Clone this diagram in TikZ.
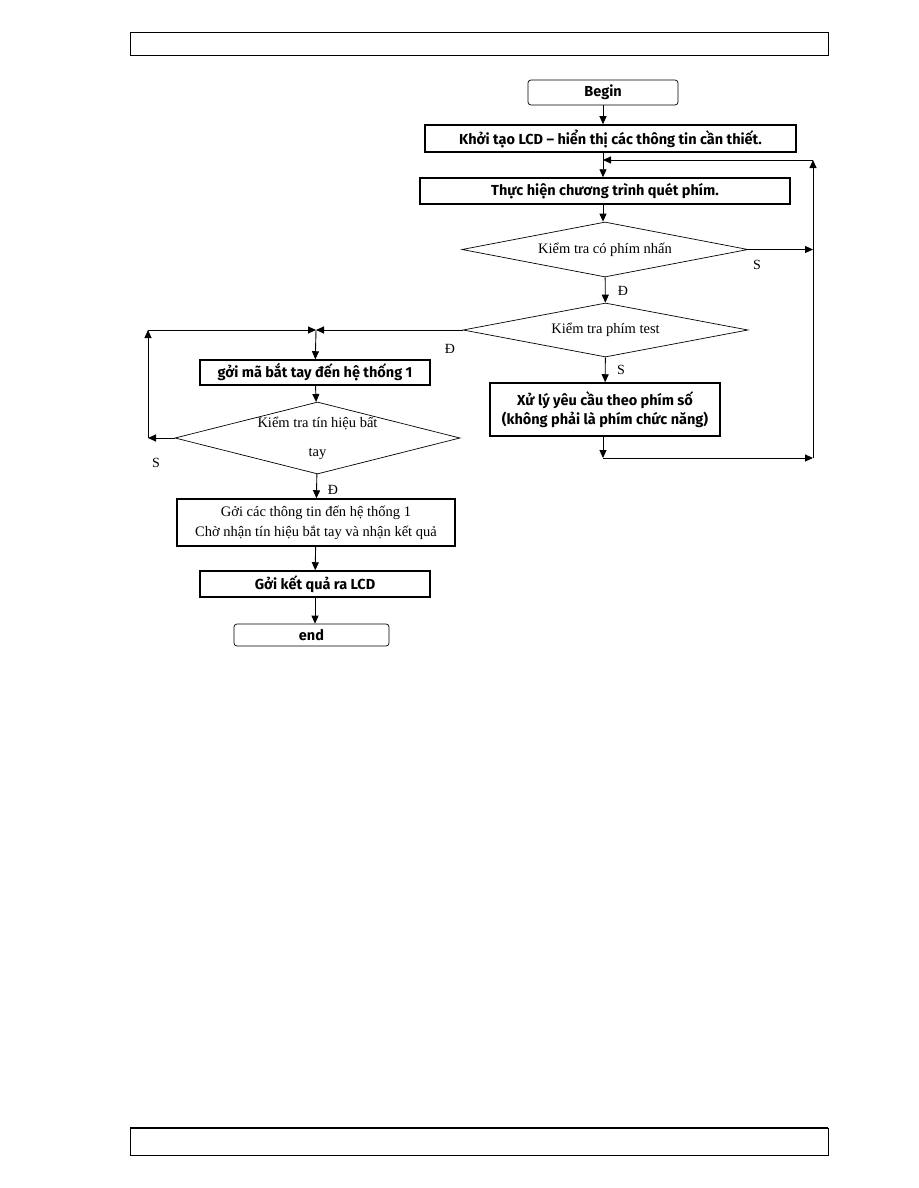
\documentclass[tikz,border=0pt]{standalone}
\usepackage{fontspec}
\setmainfont{Liberation Serif}
\newfontfamily\boxfont{Fira Sans}
\usetikzlibrary{shapes.geometric,arrows.meta}

\begin{document}
\begin{tikzpicture}[x=1pt,y=-1pt,
  box/.style={draw,line width=1.5pt,inner sep=0pt,font=\boxfont\bfseries\fontsize{14.5}{19}\selectfont},
  term/.style={draw,rounded corners=3pt,line width=0.7pt,inner sep=0pt,font=\boxfont\bfseries\fontsize{14.5}{17}\selectfont},
  cond/.style={diamond,draw,line width=0.7pt,inner sep=0pt,aspect=5,font=\fontsize{14.5}{17}\selectfont},
  flow/.style={line width=0.9pt,-{Triangle[length=8pt,width=7pt]}},
  lbl/.style={font=\fontsize{14}{16}\selectfont}]
\useasboundingbox (0,0) rectangle (918,1188);
\draw[line width=1pt] (130,33) rectangle (828,56);
\draw[line width=1pt] (130,1128) rectangle (828,1155);
\draw[line width=2pt] (130,1128) -- (828,1128);

\node[term,minimum width=150pt,minimum height=25pt] (begin) at (603,92.5) {Begin};
\node[box,minimum width=371pt,minimum height=27pt] (lcd) at (610.5,138.5) {Khởi tạo LCD – hiển thị các thông tin cần thiết.};
\node[box,minimum width=370pt,minimum height=26pt] (scan) at (605,191) {Thực hiện chương trình quét phím.};
\node[cond,minimum width=286pt,minimum height=55pt] (d1) at (605,249.5) {Kiểm tra có phím nhấn};
\node[cond,minimum width=285pt,minimum height=54pt] (d2) at (605.5,330) {Kiểm tra phím test};
\node[box,minimum width=230pt,minimum height=53pt,align=center] (proc) at (605,409.5) {Xử lý yêu cầu theo phím số\\(không phải là phím chức năng)};
\node[box,minimum width=230pt,minimum height=25pt] (send) at (315,372.5) {gởi mã bắt tay đến hệ thống 1};
\node[cond,minimum width=285pt,minimum height=72pt,align=center,aspect=3.96,inner ysep=-10pt] (d3) at (317.5,438) {Kiểm tra tín hiệu bất\\[12pt]tay};
\node[box,minimum width=278pt,minimum height=47pt,align=center,font=\fontsize{14.5}{20}\selectfont] (info) at (316,522.5) {Gởi các thông tin đến hệ thống 1\\Chờ nhận tín hiệu bắt tay và nhận kết quả};
\node[box,minimum width=230pt,minimum height=26pt] (res) at (315,584) {Gởi kết quả ra LCD};
\node[term,minimum width=155pt,minimum height=22pt] (end) at (311.5,635) {end};

\coordinate (jt) at (603,160);
\coordinate (rt) at (813,160);
\coordinate (rb) at (813,458);
\coordinate (jl) at (316,330);
\coordinate (ll) at (148,330);

\draw[flow] (begin) -- (begin |- lcd.north);
\draw[flow] (begin |- lcd.south) -- (begin |- scan.north);
\draw[flow] (rt) -- (jt);
\draw[flow] (rb) -- (rt);
\draw[flow] (begin |- scan.south) -- (begin |- d1.north);
\draw[flow] (d1.east) -- (d1.east -| rt);
\draw[flow] (d1) -- (d2);
\draw[flow] (d2) -- (proc);
\draw[flow] (proc.south -| begin) -- (begin |- rb);
\draw[flow] (begin |- rb) -- (rb);
\draw[flow] (d2.west) -- (jl);
\draw[flow] (ll) -- (jl);
\draw[flow] (jl) -- (send);
\draw[flow] (send) -- (d3);
\draw[flow] (d3.west) -- (d3.west -| ll);
\draw[flow] (d3.west -| ll) -- (ll);
\draw[flow] (d3) -- (info);
\draw[flow] (info) -- (res);
\draw[flow] (res) -- (res |- end.north);

\node[lbl] (s1) at (757,265) {S};
\node[lbl] (y1) at (623,291) {Đ};
\node[lbl] (y2) at (450,349) {Đ};
\node[lbl] (s2) at (621,370) {S};
\node[lbl] (s3) at (156,463) {S};
\node[lbl] (y3) at (333,490) {Đ};
\end{tikzpicture}
\end{document}
